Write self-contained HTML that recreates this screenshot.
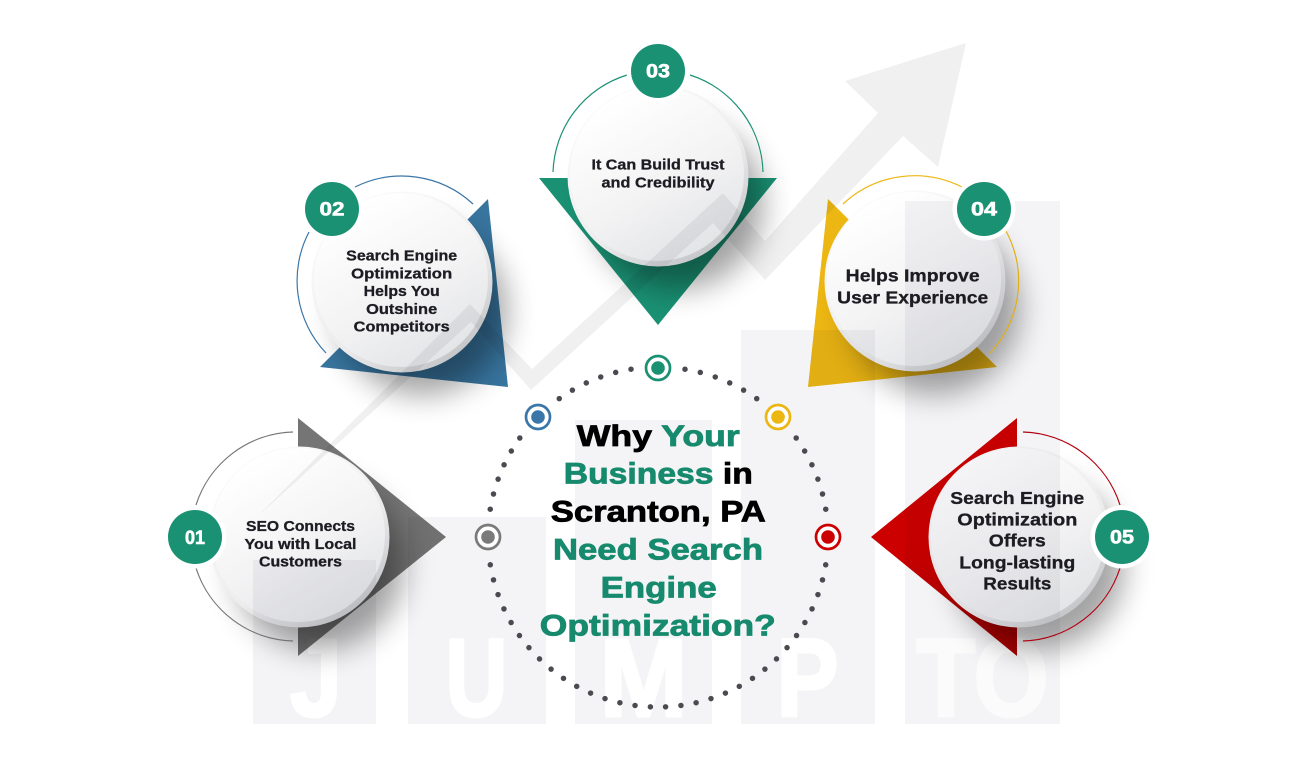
<!DOCTYPE html>
<html lang="en"><head><meta charset="utf-8"><title>Why Your Business in Scranton, PA Need Search Engine Optimization?</title>
<style>
html,body{margin:0;padding:0;background:#fff;width:1314px;height:768px;overflow:hidden}
svg{display:block}
text{font-family:"Liberation Sans",sans-serif;font-weight:700}
.l{font-size:14.5px;fill:#1c1c22;text-anchor:middle;stroke:#1c1c22;stroke-width:.3}
.m{font-size:17.5px;fill:#1c1c22;text-anchor:middle;stroke:#1c1c22;stroke-width:.3}
.n{font-size:19px;fill:#fff;text-anchor:middle;stroke:#fff;stroke-width:.6}
.t{font-size:30px;text-anchor:middle;fill:#000;stroke:#000;stroke-width:.8}
.g{fill:#178a6e;stroke:#178a6e}
.b{font-size:110px;fill:#fff;stroke:#fff;stroke-width:3;text-anchor:middle}
.arc{fill:none;stroke-width:1.2}
.dots{fill:none;stroke:#4a4a50;stroke-width:5.5;stroke-linecap:round}
</style></head><body>
<svg width="1314" height="768" viewBox="0 0 1314 768" xmlns="http://www.w3.org/2000/svg">
<defs>
<linearGradient id="rim" x1=".2" y1=".1" x2=".8" y2=".95"><stop offset="0" stop-color="#fbfbfb"/><stop offset=".6" stop-color="#ececed"/><stop offset="1" stop-color="#c2c3c6"/></linearGradient>
<linearGradient id="face" x1=".25" y1=".08" x2=".75" y2=".95"><stop offset="0" stop-color="#ffffff"/><stop offset=".55" stop-color="#f3f3f4"/><stop offset="1" stop-color="#e3e4e6"/></linearGradient>
<linearGradient id="red" x1="0" y1="0" x2="0" y2="1"><stop offset="0" stop-color="#cf0000"/><stop offset=".6" stop-color="#cc0000"/><stop offset="1" stop-color="#a80000"/></linearGradient>
<filter id="sh" x="-60%" y="-60%" width="220%" height="220%"><feGaussianBlur stdDeviation="15"/></filter>
<g id="disc"><circle r="90.5" fill="url(#rim)"/><circle r="87" cx="-1" cy="-2" fill="url(#face)"/></g>
<circle id="shd" r="85" fill="#000" opacity=".36" filter="url(#sh)"/>
</defs>

<!-- triangles -->
<polygon points="298,418 446,537 298,656" fill="#757575"/>
<polygon points="488,199 320,367 508,387" fill="#38759f"/>
<polygon points="539,178 777,178 658,325" fill="#1a9173"/>
<polygon points="828,199 808,387 997,367" fill="#ecb613"/>
<polygon points="1017,418 871,537 1017,656" fill="url(#red)"/>

<!-- shadows -->
<use href="#shd" x="319" y="565"/>
<use href="#shd" x="422" y="310"/>
<use href="#shd" x="678" y="204"/>
<use href="#shd" x="935" y="309"/>
<use href="#shd" x="1039" y="565"/>

<!-- arcs -->
<path class="arc" stroke="#777" d="M293,432A105,105 0 0 0 196,505M196,568A105,105 0 0 0 293,641"/>
<path class="arc" stroke="#3a76a8" d="M355,187A105,105 0 0 1 473,204M309,232A105,105 0 0 0 326,353"/>
<path class="arc" stroke="#1a9173" d="M553,172A105,105 0 0 1 627,75M690,75A105,105 0 0 1 763,172"/>
<path class="arc" stroke="#ecb613" d="M843,204A105,105 0 0 1 962,187M1006,231A105,105 0 0 1 990,353"/>
<path class="arc" stroke="#b5000f" d="M1023,432A105,105 0 0 1 1120,505M1120,568A105,105 0 0 1 1023,641"/>

<!-- discs -->
<use href="#disc" x="299" y="537"/>
<use href="#disc" x="402" y="282"/>
<use href="#disc" x="658" y="176"/>
<use href="#disc" x="915" y="281"/>
<use href="#disc" x="1019" y="537"/>

<!-- background chart overlaid with multiply -->
<g style="mix-blend-mode:multiply">
<rect x="253" y="560" width="123" height="164" fill="#f4f4f6"/>
<rect x="408" y="517" width="138" height="207" fill="#f4f4f6"/>
<rect x="575" y="420" width="137" height="304" fill="#f4f4f6"/>
<rect x="741" y="330" width="134" height="394" fill="#f4f4f6"/>
<rect x="905" y="201" width="155" height="523" fill="#f4f4f6"/>
<polygon points="257,517 470,304 532,369 723,193 765,241 878,113 845,81 966,43 938,167 903,136 765,280 713,223 531,390 471,322" fill="#f0f0f1"/>
<text class="b" x="316" y="716" textLength="52" lengthAdjust="spacingAndGlyphs">J</text>
<text class="b" x="476.5" y="716" textLength="62" lengthAdjust="spacingAndGlyphs">U</text>
<text class="b" x="643.5" y="716" textLength="88" lengthAdjust="spacingAndGlyphs">M</text>
<text class="b" x="807.5" y="716" textLength="62" lengthAdjust="spacingAndGlyphs">P</text>
<text class="b" x="982.5" y="716" textLength="132" lengthAdjust="spacingAndGlyphs" opacity=".65">TO</text>
</g>

<!-- dotted ring -->
<g class="dots">
<path stroke-dasharray="0 15.64" d="M685,369.2A170,170 0 0 1 757.4,399.1"/>
<path stroke-dasharray="0 15.55" d="M796.2,438A170,170 0 0 1 825.9,510.1"/>
<path stroke-dasharray="0 15.43" d="M825.7,564.8A170,170 0 0 1 664.8,706.9"/>
<path stroke-dasharray="0 15.64" d="M631,369.2A170,170 0 0 0 558.6,399.1"/>
<path stroke-dasharray="0 15.55" d="M519.8,438A170,170 0 0 0 490.1,510.1"/>
<path stroke-dasharray="0 15.43" d="M490.3,564.8A170,170 0 0 0 651.2,706.9"/>
</g>

<!-- targets -->
<circle cx="488" cy="537" r="12" fill="#fff" stroke="#7a7a7a" stroke-width="2.7"/><circle cx="488" cy="537" r="6.8" fill="#7a7a7a"/>
<circle cx="538" cy="417" r="12" fill="#fff" stroke="#3a76a8" stroke-width="2.7"/><circle cx="538" cy="417" r="6.8" fill="#3a76a8"/>
<circle cx="658" cy="368" r="12" fill="#fff" stroke="#1a9173" stroke-width="2.7"/><circle cx="658" cy="368" r="6.8" fill="#1a9173"/>
<circle cx="778" cy="417" r="12" fill="#fff" stroke="#ecb613" stroke-width="2.7"/><circle cx="778" cy="417" r="6.8" fill="#ecb613"/>
<circle cx="828" cy="537" r="12" fill="#fff" stroke="#cc0000" stroke-width="2.7"/><circle cx="828" cy="537" r="6.8" fill="#cc0000"/>

<!-- badges -->
<circle cx="195" cy="537" r="31.5" fill="#fff"/><circle cx="195" cy="537" r="27" fill="#1a9173"/>
<circle cx="332" cy="209" r="31.5" fill="#fff"/><circle cx="332" cy="209" r="27" fill="#1a9173"/>
<circle cx="658" cy="71" r="31.5" fill="#fff"/><circle cx="658" cy="71" r="27" fill="#1a9173"/>
<circle cx="984" cy="209" r="31.5" fill="#fff"/><circle cx="984" cy="209" r="27" fill="#1a9173"/>
<circle cx="1122" cy="537" r="31.5" fill="#fff"/><circle cx="1122" cy="537" r="27" fill="#1a9173"/>
<text class="n" x="195" y="544" textLength="20" lengthAdjust="spacingAndGlyphs">01</text>
<text class="n" x="332" y="215.5" textLength="25" lengthAdjust="spacingAndGlyphs">02</text>
<text class="n" x="658" y="77.5" textLength="24" lengthAdjust="spacingAndGlyphs">03</text>
<text class="n" x="984" y="215.5" textLength="26" lengthAdjust="spacingAndGlyphs">04</text>
<text class="n" x="1122" y="543.5" textLength="24" lengthAdjust="spacingAndGlyphs">05</text>

<!-- item labels -->
<text class="l" x="300.5" y="531" textLength="109" lengthAdjust="spacingAndGlyphs">SEO Connects</text>
<text class="l" x="300.5" y="549" textLength="112" lengthAdjust="spacingAndGlyphs">You with Local</text>
<text class="l" x="300.5" y="566.7" textLength="83" lengthAdjust="spacingAndGlyphs">Customers</text>

<text class="l" x="401.7" y="260.7" textLength="111" lengthAdjust="spacingAndGlyphs">Search Engine</text>
<text class="l" x="401.7" y="278.3" textLength="101" lengthAdjust="spacingAndGlyphs">Optimization</text>
<text class="l" x="401.7" y="296" textLength="76" lengthAdjust="spacingAndGlyphs">Helps You</text>
<text class="l" x="401.7" y="314" textLength="71" lengthAdjust="spacingAndGlyphs">Outshine</text>
<text class="l" x="401.7" y="331.7" textLength="96" lengthAdjust="spacingAndGlyphs">Competitors</text>

<text class="l" x="658" y="169.3" textLength="133" lengthAdjust="spacingAndGlyphs">It Can Build Trust</text>
<text class="l" x="658" y="187.3" textLength="113" lengthAdjust="spacingAndGlyphs">and Credibility</text>

<text class="m" x="912.7" y="281.7" textLength="134" lengthAdjust="spacingAndGlyphs">Helps Improve</text>
<text class="m" x="912.7" y="303.3" textLength="151" lengthAdjust="spacingAndGlyphs">User Experience</text>

<text class="m" x="1017.3" y="504" textLength="134" lengthAdjust="spacingAndGlyphs">Search Engine</text>
<text class="m" x="1017.3" y="525.3" textLength="120" lengthAdjust="spacingAndGlyphs">Optimization</text>
<text class="m" x="1017.3" y="546.7" textLength="57" lengthAdjust="spacingAndGlyphs">Offers</text>
<text class="m" x="1017.3" y="568.3" textLength="116" lengthAdjust="spacingAndGlyphs">Long-lasting</text>
<text class="m" x="1017.3" y="589.3" textLength="68" lengthAdjust="spacingAndGlyphs">Results</text>

<!-- title -->
<text class="t" x="658.3" y="446" textLength="163" lengthAdjust="spacingAndGlyphs">Why <tspan class="g">Your</tspan></text>
<text class="t" x="658.3" y="483.5" textLength="189" lengthAdjust="spacingAndGlyphs"><tspan class="g">Business</tspan> in</text>
<text class="t" x="658.3" y="521.7" textLength="215" lengthAdjust="spacingAndGlyphs">Scranton, PA</text>
<text class="t g" x="658" y="559.3" textLength="210" lengthAdjust="spacingAndGlyphs">Need Search</text>
<text class="t g" x="658.7" y="597.3" textLength="116" lengthAdjust="spacingAndGlyphs">Engine</text>
<text class="t g" x="657.8" y="635.7" textLength="236" lengthAdjust="spacingAndGlyphs">Optimization?</text>
</svg>
</body></html>
